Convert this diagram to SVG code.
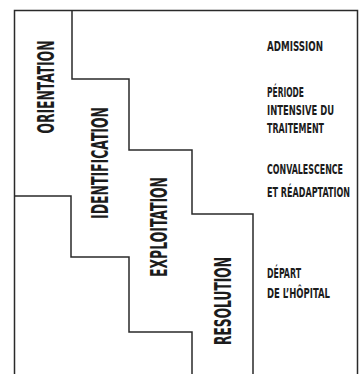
<svg xmlns="http://www.w3.org/2000/svg" width="363" height="374" viewBox="0 0 363 374">
<style>
.ln{fill:none;stroke:#2a2a2a;stroke-width:1.5;stroke-linejoin:miter}
.big{font-family:"DejaVu Sans Condensed","DejaVu Sans","Liberation Sans",sans-serif;font-weight:bold;font-size:23px;fill:#1c1c1c;text-anchor:middle}
.lab{font-family:"DejaVu Sans Condensed","DejaVu Sans","Liberation Sans",sans-serif;font-weight:bold;font-size:13.5px;fill:#1c1c1c}
</style>
<rect width="363" height="374" fill="#ffffff"/>
<g id="connectors">
<path class="ln" d="M14.5,374 V10.5 H357.5 V374"/>
<path class="ln" d="M72,10.5 V79 H129 V150 H192 V214 H253 V374"/>
<path class="ln" d="M14.5,196 H71 V257 H129 V332 H192 V374"/>
</g>
<g id="orientation"><text class="big" transform="translate(54,87) rotate(-90) scale(0.6,1)" textLength="155" lengthAdjust="spacingAndGlyphs">ORIENTATION</text></g>
<g id="identification"><text class="big" transform="translate(108,163) rotate(-90) scale(0.6,1)" textLength="186.7" lengthAdjust="spacingAndGlyphs">IDENTIFICATION</text></g>
<g id="exploitation"><text class="big" transform="translate(167,227) rotate(-90) scale(0.6,1)" textLength="166.7" lengthAdjust="spacingAndGlyphs">EXPLOITATION</text></g>
<g id="resolution"><text class="big" transform="translate(231,301) rotate(-90) scale(0.6,1)" textLength="146.7" lengthAdjust="spacingAndGlyphs">RESOLUTION</text></g>
<g id="admission"><text class="lab" transform="translate(267,51) scale(0.65,1)" textLength="86.2" lengthAdjust="spacingAndGlyphs">ADMISSION</text></g>
<g id="periode">
<text class="lab" transform="translate(267,97) scale(0.65,1)" textLength="56.9" lengthAdjust="spacingAndGlyphs">PÉRIODE</text>
<text class="lab" transform="translate(267,115) scale(0.65,1)" textLength="103.1" lengthAdjust="spacingAndGlyphs">INTENSIVE DU</text>
<text class="lab" transform="translate(267,133) scale(0.65,1)" textLength="87.7" lengthAdjust="spacingAndGlyphs">TRAITEMENT</text>
</g>
<g id="convalescence">
<text class="lab" transform="translate(267,174) scale(0.65,1)" textLength="116.9" lengthAdjust="spacingAndGlyphs">CONVALESCENCE</text>
<text class="lab" transform="translate(267,197) scale(0.65,1)" textLength="127.7" lengthAdjust="spacingAndGlyphs">ET RÉADAPTATION</text>
</g>
<g id="depart">
<text class="lab" transform="translate(267,278) scale(0.65,1)" textLength="52.3" lengthAdjust="spacingAndGlyphs">DÉPART</text>
<text class="lab" transform="translate(267,298) scale(0.65,1)" textLength="96.9" lengthAdjust="spacingAndGlyphs">DE L’HÔPITAL</text>
</g>
</svg>
